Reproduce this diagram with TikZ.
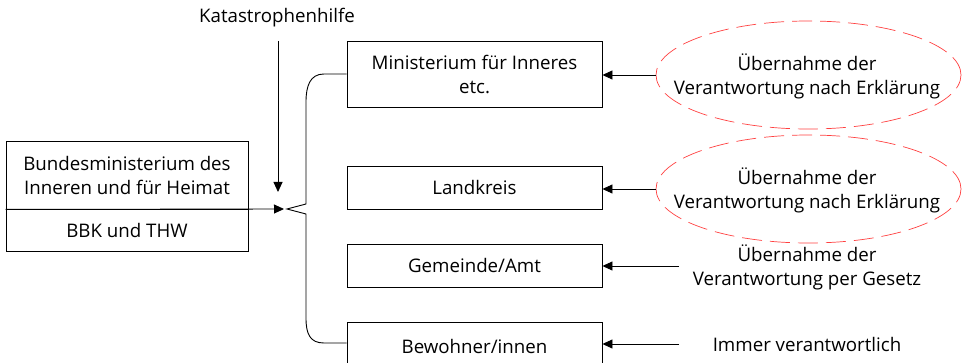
\documentclass[tikz,border=0pt]{standalone}
\usepackage{fontspec}
\setmainfont{Open Sans}
\usetikzlibrary{arrows.meta,shapes.geometric}
\begin{document}
\begin{tikzpicture}[x=1pt,y=-1pt,
  font=\fontsize{18.7}{24}\selectfont,
  box/.style={draw,line width=0.9pt,rectangle,inner sep=0pt,align=center},
  arr/.style={line width=0.9pt,-{Triangle[length=10pt,width=9pt]}},
  oval/.style={draw=red!75!white,dash pattern=on 20pt off 8pt,line width=0.7pt,ellipse,inner sep=0pt,minimum width=305pt,minimum height=108pt},
  lbl/.style={align=center,inner sep=0pt}]
\useasboundingbox (0,0) rectangle (965,363);
% left box
\node[box,minimum width=242pt,minimum height=68pt] (bmi) at (127,175) {Bundesministerium des\\Inneren und für Heimat};
\node[box,minimum width=242pt,minimum height=42pt] (bbk) at (127,230) {BBK und THW};
% top label
\node[lbl] (kat) at (277,18) {Katastrophenhilfe};
\coordinate (katend) at (278,41);
\coordinate (tip) at (284,209);
\draw[arr] (katend) -- (278,192);
\draw[arr] (bmi.south west) -- (tip);
% right boxes
\node[box,minimum width=255pt,minimum height=66pt] (min) at (474.5,74) {Ministerium für Inneres\\etc.};
\node[box,minimum width=255pt,minimum height=43pt] (lk) at (474.5,187.5) {Landkreis};
\node[box,minimum width=255pt,minimum height=43pt] (gem) at (474.5,265.5) {Gemeinde/Amt};
\node[box,minimum width=255pt,minimum height=46pt,anchor=north] (bew) at (474.5,322) {};
\node[lbl] (bewt) at (474.5,346) {Bewohner/innen};
% brace
\draw[line width=0.9pt] (min.west) -- (324,74) .. controls (310,74) and (306,86) .. (306,102)
  -- (306,204) -- (287,209) -- (306,214) -- (306,318)
  .. controls (306,334) and (310,343) .. (324,343) -- (bew.west |- 0,343);
% right side
\node[oval] (e1) at (808.5,75) {};
\node[lbl] (e1t) at (807,76) {Übernahme der\\Verantwortung nach Erklärung};
\node[oval] (e2) at (808.5,189) {};
\node[lbl] (e2t) at (807,190) {Übernahme der\\Verantwortung nach Erklärung};
\node[lbl] (t3) at (807,267) {Übernahme der\\Verantwortung per Gesetz};
\node[lbl] (t4) at (807,344) {Immer verantwortlich};
\coordinate (s3) at (679,266);
\coordinate (s4) at (679,344);
\draw[arr] (e1.west) -- (min.east |- e1.west);
\draw[arr] (e2.west) -- (lk.east |- e2.west);
\draw[arr] (s3) -- (gem.east |- s3);
\draw[arr] (s4) -- (bew.east |- s4);
\end{tikzpicture}
\end{document}
